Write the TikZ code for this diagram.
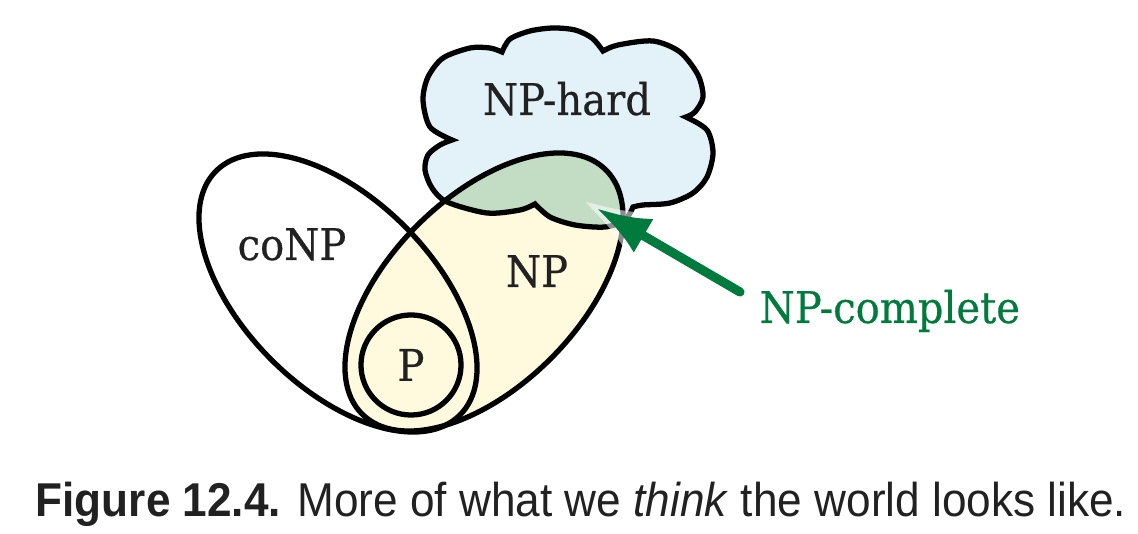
\documentclass[tikz,border=0pt]{standalone}
\usepackage{fontspec}
\setmainfont{DejaVu Serif}[FakeStretch=0.92, FakeBold=0.5]
\newfontfamily\capfont{Liberation Sans}[FakeStretch=0.93]
\usetikzlibrary{arrows.meta}
\definecolor{hardblue}{RGB}{227,242,248}
\definecolor{npyellow}{RGB}{255,249,221}
\definecolor{compgreen}{RGB}{194,221,196}
\definecolor{arrowgreen}{RGB}{0,122,61}
\tikzset{
  region/.style={draw=black, line width=1.5pt},
  setlabel/.style={inner sep=0pt, text=black!87, font=\fontsize{12.4}{15}\selectfont},
}
\newcommand*{\cloudpath}{plot[smooth] coordinates {(535,204) (520,210) (487,213) (447,202) (432,188) (425,170) (428,155) (440,145) (452,140)}
  -- plot[smooth] coordinates {(452,140) (430,127) (423,100) (428,77) (443,58) (470,48) (490,48) (502,52)}
  -- plot[smooth] coordinates {(502,52) (510,39) (530,31) (553,28) (575,30) (592,38) (603,51)}
  -- plot[smooth] coordinates {(603,51) (618,45) (653,41) (680,52) (698,75) (703,97) (695,112) (686,117)}
  -- plot[smooth] coordinates {(686,117) (707,130) (713,153) (707,177) (693,193) (670,203) (643,205) (633,207)}
  -- plot[smooth] coordinates {(633,207) (625,220) (605,227) (575,225) (550,217) (535,204)} -- cycle}

\begin{document}
\begin{tikzpicture}[x=0.01cm, y=-0.01cm]
    \useasboundingbox (0,0) rectangle (1138,534);
    \coordinate (conpc) at (338,293);
    \coordinate (npc) at (484,292);
    \coordinate (tail) at (740,292);
    \coordinate (tip) at (596,208);
    % fills
    \fill[hardblue] \cloudpath;
    \fill[npyellow, rotate around={45:(npc)}] (npc) ellipse [x radius=172.5, y radius=94.3];
    \begin{scope}
        \clip \cloudpath;
        \fill[compgreen, rotate around={45:(npc)}] (npc) ellipse [x radius=172.5, y radius=94.3];
    \end{scope}
    % outlines
    \draw[region, rotate around={-45:(conpc)}] (conpc) ellipse [x radius=172.5, y radius=94.3];
    \draw[region, rotate around={45:(npc)}] (npc) ellipse [x radius=172.5, y radius=94.3];
    \draw[region] \cloudpath;
    \node[region, circle, minimum size=1cm, setlabel] (pset) at (411,365) {P};
    % labels
    \node[setlabel, anchor=base] (hard) at (567,115) {NP-hard};
    \node[setlabel, anchor=base] (conp) at (292,260) {coNP};
    \node[setlabel, anchor=base] (np) at (537,287) {NP};
    \node[setlabel, text=arrowgreen, anchor=base west] (complete) at (759,323) {NP-complete};
    % arrow
    \draw[white, opacity=0.55, line width=4.6pt, line cap=round, shorten >=-0.16cm, -{Latex[length=0.72cm, width=0.55cm]}] (tail) -- (tip);
    \draw[arrowgreen, line width=2.6pt, line cap=round, -{Latex[length=0.55cm, width=0.39cm]}] (tail) -- (tip);
    % caption
    \node[anchor=base west, inner sep=0pt, text=black!87, font=\capfont\fontsize{13.5}{16}\selectfont] (caption) at (35,517)
        {\textbf{Figure 12.4.} More of what we \textit{think} the world looks like.};
\end{tikzpicture}
\end{document}
